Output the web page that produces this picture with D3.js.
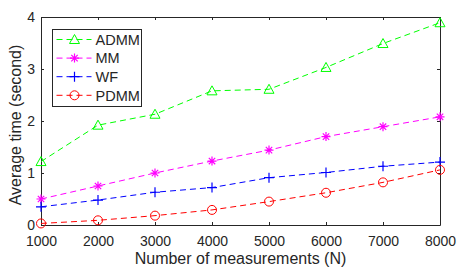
<!DOCTYPE html>
<html>
<head>
<meta charset="utf-8">
<script src="https://cdn.jsdelivr.net/npm/d3@7"></script>
<style>
	body { margin: 0; background: #fff; }
	text { font-family: "Liberation Sans", Arial, sans-serif; fill: #262626; }
</style>
</head>
<body>
<svg id="chart" width="457" height="267"></svg>
<script>
// values
const measurements = [1000, 2000, 3000, 4000, 5000, 6000, 7000, 8000];
const admm = [1.22, 1.92, 2.13, 2.58, 2.61, 3.03, 3.49, 3.89];
const mm = [0.50, 0.75, 1.00, 1.23, 1.44, 1.70, 1.89, 2.08];
const wf = [0.35, 0.48, 0.63, 0.72, 0.91, 1.01, 1.13, 1.21];
const pdmm = [0.03, 0.09, 0.18, 0.29, 0.45, 0.62, 0.82, 1.06];
const yTicks = [0, 1, 2, 3, 4];

const series = [
	{ name: 'ADMM', values: admm, color: '#00ff00', marker: 'triangle' },
	{ name: 'MM', values: mm, color: '#ff00ff', marker: 'star' },
	{ name: 'WF', values: wf, color: '#0000ff', marker: 'plus' },
	{ name: 'PDMM', values: pdmm, color: '#ff0000', marker: 'circle' }
];

const margin = { top: 17, right: 17, bottom: 42, left: 41 };
const width = 457, height = 267;
const innerWidth = width - margin.left - margin.right;
const innerHeight = height - margin.top - margin.bottom;

const svg = d3.select('#chart');
const g = svg.append('g').attr('transform', `translate(${margin.left},${margin.top})`);

const xScale = d3.scaleLinear().domain([1000, 8000]).range([0, innerWidth]);
const yScale = d3.scaleLinear().domain([0, 4]).range([innerHeight, 0]);

// axes, matlab style: ticks pointing inward, box on
const xAxis = d3.axisBottom(xScale).tickValues(measurements).tickSizeInner(-3).tickSizeOuter(0).tickPadding(11).tickFormat(d3.format('d'));
const yAxis = d3.axisLeft(yScale).tickValues(yTicks).tickSizeInner(-3).tickSizeOuter(0).tickPadding(6).tickFormat(d3.format('d'));

g.append('g').attr('class', 'x axis').attr('transform', `translate(0,${innerHeight})`).call(xAxis);
g.append('g').attr('class', 'y axis').call(yAxis);
g.append('g').attr('class', 'x2 axis').call(d3.axisTop(xScale).tickValues(measurements).tickSizeInner(-3).tickSizeOuter(0));
g.append('g').attr('class', 'y2 axis').attr('transform', `translate(${innerWidth},0)`)
	.call(d3.axisRight(yScale).tickValues(yTicks).tickSizeInner(-3).tickSizeOuter(0));

// mirrored axes only need the ticks
g.selectAll('.x2 .tick text, .y2 .tick text').remove();

g.selectAll('.axis .domain').attr('stroke', '#262626').attr('stroke-width', 1);
g.selectAll('.axis .tick line').attr('stroke', '#262626');
g.selectAll('.axis .tick text').style('font-size', '14px').attr('fill', '#262626');

// markers
function drawMarker(sel, type, color, x, y) {
	if (type === 'triangle') {
		sel.append('path').attr('d', `M${x},${y - 5}L${x + 5},${y + 4}L${x - 5},${y + 4}Z`)
			.attr('fill', 'none').attr('stroke', color).attr('stroke-width', 1);
	} else if (type === 'circle') {
		sel.append('circle').attr('cx', x).attr('cy', y).attr('r', 4.5)
			.attr('fill', 'none').attr('stroke', color).attr('stroke-width', 1);
	} else if (type === 'plus') {
		sel.append('path').attr('d', `M${x - 5},${y}H${x + 5}M${x},${y - 5}V${y + 5}`)
			.attr('stroke', color).attr('stroke-width', 1.2);
	} else {
		sel.append('path').attr('d', `M${x - 4.5},${y}H${x + 4.5}M${x},${y - 4.5}V${y + 4.5}M${x - 3.2},${y - 3.2}L${x + 3.2},${y + 3.2}M${x - 3.2},${y + 3.2}L${x + 3.2},${y - 3.2}`)
			.attr('stroke', color).attr('stroke-width', 1.2);
	}
}

const line = d3.line().x(d => xScale(d[0])).y(d => yScale(d[1]));

series.forEach(s => {
	const pts = measurements.map((m, i) => [m, s.values[i]]);
	g.append('path').datum(pts)
		.attr('d', line)
		.attr('fill', 'none')
		.attr('stroke', s.color)
		.attr('stroke-width', 1)
		.attr('stroke-dasharray', '6,4');
	const mg = g.append('g');
	pts.forEach(p => drawMarker(mg, s.marker, s.color, xScale(p[0]), yScale(p[1])));
});

// legend
const legend = svg.append('g').attr('transform', 'translate(52.5,29.5)');
legend.append('rect').attr('width', 89).attr('height', 77)
	.attr('fill', '#fff').attr('stroke', '#262626').attr('stroke-width', 1);
series.forEach((s, i) => {
	const y = 10 + i * 18.6;
	legend.append('line').attr('x1', 4).attr('x2', 39).attr('y1', y).attr('y2', y)
		.attr('stroke', s.color).attr('stroke-dasharray', '6,4');
	drawMarker(legend, s.marker, s.color, 22, y);
	legend.append('text').attr('x', 43).attr('y', y).attr('dy', '0.36em')
		.style('font-size', '14.5px').text(s.name);
});

// axis titles
svg.append('text')
	.attr('x', margin.left + innerWidth / 2).attr('y', 263.5)
	.attr('text-anchor', 'middle')
	.style('font-size', '16px')
	.text('Number of measurements (N)');

svg.append('text')
	.attr('transform', 'translate(21,125) rotate(-90)')
	.attr('text-anchor', 'middle')
	.style('font-size', '16px')
	.text('Average time (second)');
</script>
</body>
</html>
